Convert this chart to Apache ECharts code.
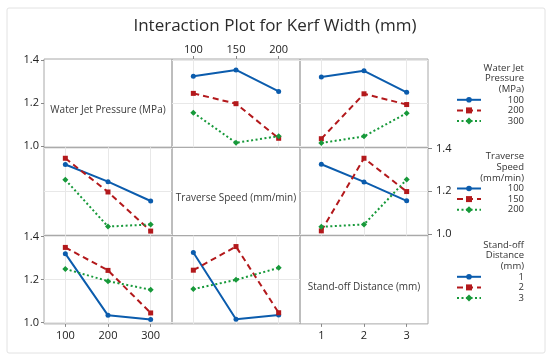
<!DOCTYPE html>
<html><head><meta charset="utf-8">
<script src="https://cdn.jsdelivr.net/npm/echarts@6/dist/echarts.min.js"></script>
<style>html,body{margin:0;padding:0;background:#fff}#c{width:550px;height:359px}</style>
</head><body><div id="c"></div>
<script>
// Factor levels
const wjpLevels = ['100', '200', '300'];
const tsLevels = ['100', '150', '200'];
const sodLevels = ['1', '2', '3'];
const wjpX = [100, 200, 300];
const tsX = [100, 150, 200];
const sodX = [1, 2, 3];
const yTicks = [1.0, 1.2, 1.4];

// Mean kerf width, WJP level (rows) vs Traverse Speed 100/150/200
const wjpTs100 = [1.325, 1.354, 1.254];
const wjpTs200 = [1.245, 1.197, 1.036];
const wjpTs300 = [1.155, 1.015, 1.046];
// WJP level (rows) vs Stand-off 1/2/3
const wjpSod100 = [1.321, 1.350, 1.250];
const wjpSod200 = [1.034, 1.243, 1.193];
const wjpSod300 = [1.014, 1.045, 1.153];
// Traverse speed level (rows) vs Stand-off 1/2/3
const tsSod100 = [1.326, 1.244, 1.156];
const tsSod150 = [1.016, 1.354, 1.199];
const tsSod200 = [1.035, 1.046, 1.255];

const wjpTs = [wjpTs100, wjpTs200, wjpTs300];
const wjpSod = [wjpSod100, wjpSod200, wjpSod300];
const tsSod = [tsSod100, tsSod150, tsSod200];
const col = (m, j) => m.map(r => r[j]);

const COLORS = ['#0b5cad', '#b3191c', '#17993a'];
const LTYPES = ['solid', [6, 4], [2, 2.5]];
const SYMS = ['circle', 'rect', 'diamond'];
const SSIZE = [5, 5, 6];

const L = 44, T = 59, W = 128, H = 88.3;
const xRanges = [[50, 350], [75, 225], [0.5, 3.5]];
const xCustom = [wjpX, tsX, sodX];
const font = '"Open Sans", "Noto Sans", sans-serif';

const grids = [], xAxes = [], yAxes = [], series = [];
for (let r = 0; r < 3; r++) {
  for (let c = 0; c < 3; c++) {
    const i = r * 3 + c;
    const diag = r === c;
    grids.push({left: L + c * W, top: T + r * H, width: W, height: H,
      show: true, borderColor: '#a8a8a8', borderWidth: 1, containLabel: false});
    const xLab = (r === 0 && c === 1) || (r === 2 && c === 0) || (r === 2 && c === 2);
    const xPos = (r === 0) ? 'top' : 'bottom';
    xAxes.push({type: 'value', gridIndex: i, min: xRanges[c][0], max: xRanges[c][1],
      position: xPos,
      axisLine: {show: false},
      axisTick: {show: xLab, length: 3, customValues: xCustom[c], lineStyle: {color: '#888'}},
      axisLabel: {show: xLab, customValues: xCustom[c], margin: xPos === 'top' ? 4 : 6,
        color: '#222', fontSize: 11, fontFamily: font, fontWeight: 500},
      splitLine: {show: !diag, lineStyle: {color: '#e8e8e8', width: 1}}
    });
    const yLab = (r === 0 && c === 0) || (r === 1 && c === 2) || (r === 2 && c === 0);
    const yPos = (r === 1) ? 'right' : 'left';
    yAxes.push({type: 'value', gridIndex: i, min: 0.994, max: 1.405,
      position: yPos,
      axisLine: {show: false},
      axisTick: {show: yLab, length: yPos === 'right' ? 4 : 3, customValues: yTicks, lineStyle: {color: '#888'}},
      axisLabel: {show: yLab, customValues: yTicks, margin: yPos === 'right' ? 8 : 5,
        formatter: v => v.toFixed(1),
        color: '#222', fontSize: 11, fontFamily: font, fontWeight: 500},
      splitLine: {show: !diag, lineStyle: {color: '#e8e8e8', width: 1}}
    });
  }
}

function addPanel(i, xs, lines) {
  lines.forEach((vals, k) => {
    series.push({type: 'line', xAxisIndex: i, yAxisIndex: i,
      data: xs.map((x, j) => [x, vals[j]]),
      symbol: SYMS[k], symbolSize: SSIZE[k], showSymbol: true,
      lineStyle: {color: COLORS[k], width: 2, type: LTYPES[k]},
      itemStyle: {color: COLORS[k]}, silent: true, animation: false, z: 3 + k
    });
  });
}
// row 1
addPanel(1, tsX, wjpTs);
addPanel(2, sodX, wjpSod);
// row 2
addPanel(3, wjpX, [0, 1, 2].map(j => col(wjpTs, j)));
addPanel(5, sodX, tsSod);
// row 3
addPanel(6, wjpX, [0, 1, 2].map(j => col(wjpSod, j)));
addPanel(7, tsX, [0, 1, 2].map(j => col(tsSod, j)));

// diagonal labels & legends (graphics)
const diagNames = ['Water Jet Pressure (MPa)', 'Traverse Speed (mm/min)', 'Stand-off Distance (mm)'];
const graphics = [{type: 'rect', shape: {x: 7, y: 8, width: 538, height: 345, r: 2},
  style: {fill: 'none', stroke: '#e2e2e2', lineWidth: 1}, silent: true}];
diagNames.forEach((t, k) => {
  graphics.push({type: 'text', x: L + k * W + W / 2, y: T + k * H + H / 2 + 7,
    style: {text: t, fill: '#3a3a3a', font: '500 10px ' + font, textAlign: 'center', textVerticalAlign: 'middle'}});
});
const legendGroups = [
  {title: ['Water Jet', 'Pressure', '(MPa)'], items: wjpLevels, y: 68},
  {title: ['Traverse', 'Speed', '(mm/min)'], items: tsLevels, y: 156.7},
  {title: ['Stand-off', 'Distance', '(mm)'], items: sodLevels, y: 245}
];
const LH = 10.6, TX = 524, SX0 = 457, SX1 = 481;
legendGroups.forEach(g => {
  g.title.forEach((t, k) => graphics.push({type: 'text', x: TX, y: g.y + k * LH,
    style: {text: t, fill: '#333', font: '9.5px ' + font, textAlign: 'right', textVerticalAlign: 'middle'}}));
  g.items.forEach((t, k) => {
    const yy = g.y + (3 + k) * LH;
    graphics.push({type: 'text', x: TX, y: yy,
      style: {text: t, fill: '#333', font: '9.5px ' + font, textAlign: 'right', textVerticalAlign: 'middle'}});
    graphics.push({type: 'line', shape: {x1: SX0, y1: yy, x2: SX1, y2: yy},
      style: {stroke: COLORS[k], lineWidth: 2, lineDash: LTYPES[k] === 'solid' ? null : LTYPES[k]}});
    const cx = (SX0 + SX1) / 2;
    if (k === 0) graphics.push({type: 'circle', shape: {cx: cx, cy: yy, r: 2.8}, style: {fill: COLORS[k]}});
    if (k === 1) graphics.push({type: 'rect', shape: {x: cx - 3, y: yy - 3, width: 6, height: 6}, style: {fill: COLORS[k]}});
    if (k === 2) graphics.push({type: 'polygon', shape: {points: [[cx, yy - 3.5], [cx + 3.5, yy], [cx, yy + 3.5], [cx - 3.5, yy]]}, style: {fill: COLORS[k]}});
  });
});

const chart = echarts.init(document.getElementById('c'), null, {renderer: 'canvas'});
chart.setOption({
  backgroundColor: '#fff',
  animation: false,
  title: {text: 'Interaction Plot for Kerf Width (mm)', left: 'center', top: 13,
    textStyle: {fontSize: 17, fontWeight: 500, color: '#2b2b2b', fontFamily: font}},
  grid: grids, xAxis: xAxes, yAxis: yAxes, series: series, graphic: graphics
});
</script></body></html>
